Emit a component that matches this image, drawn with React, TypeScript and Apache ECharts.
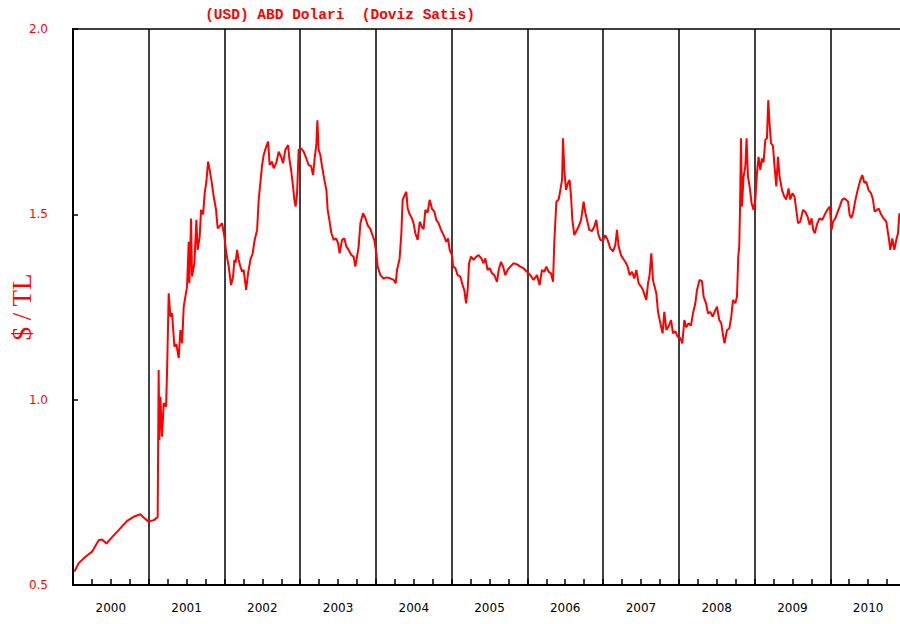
import React, { useEffect, useRef } from "react";
import * as echarts from "echarts";

// Decimal year of each reading
const years: number[] = [
  2000.018, 2000.075, 2000.164, 2000.252, 2000.339, 2000.384, 2000.441, 2000.516, 2000.603, 2000.714,
  2000.801, 2000.890, 2000.933, 2000.999, 2001.066, 2001.118, 2001.131, 2001.141, 2001.154, 2001.176,
  2001.198, 2001.229, 2001.242, 2001.264, 2001.286, 2001.308, 2001.339, 2001.365, 2001.396, 2001.418,
  2001.441, 2001.462, 2001.506, 2001.528, 2001.537, 2001.559, 2001.572, 2001.603, 2001.629, 2001.646,
  2001.673, 2001.691, 2001.718, 2001.739, 2001.761, 2001.784, 2001.805, 2001.827, 2001.858, 2001.889,
  2001.911, 2001.946, 2001.969, 2001.999, 2002.025, 2002.056, 2002.087, 2002.114, 2002.131, 2002.148,
  2002.167, 2002.188, 2002.210, 2002.233, 2002.254, 2002.286, 2002.312, 2002.342, 2002.373, 2002.399,
  2002.431, 2002.452, 2002.465, 2002.497, 2002.518, 2002.550, 2002.576, 2002.597, 2002.629, 2002.650,
  2002.686, 2002.716, 2002.748, 2002.774, 2002.804, 2002.840, 2002.857, 2002.880, 2002.906, 2002.923,
  2002.940, 2002.959, 2002.980, 2003.012, 2003.046, 2003.082, 2003.112, 2003.144, 2003.170, 2003.191,
  2003.214, 2003.227, 2003.244, 2003.266, 2003.289, 2003.319, 2003.346, 2003.363, 2003.385, 2003.412,
  2003.442, 2003.474, 2003.500, 2003.521, 2003.553, 2003.583, 2003.610, 2003.640, 2003.676, 2003.706,
  2003.728, 2003.751, 2003.772, 2003.795, 2003.830, 2003.861, 2003.891, 2003.927, 2003.962, 2003.979,
  2004.006, 2004.023, 2004.059, 2004.102, 2004.147, 2004.191, 2004.234, 2004.261, 2004.279, 2004.313,
  2004.336, 2004.353, 2004.379, 2004.402, 2004.419, 2004.446, 2004.477, 2004.498, 2004.521, 2004.551,
  2004.578, 2004.609, 2004.630, 2004.653, 2004.683, 2004.710, 2004.741, 2004.772, 2004.798, 2004.828,
  2004.860, 2004.894, 2004.930, 2004.953, 2004.974, 2005.005, 2005.019, 2005.049, 2005.079, 2005.115,
  2005.145, 2005.168, 2005.190, 2005.211, 2005.230, 2005.256, 2005.291, 2005.326, 2005.356, 2005.392,
  2005.422, 2005.445, 2005.475, 2005.502, 2005.533, 2005.564, 2005.599, 2005.621, 2005.652, 2005.679,
  2005.709, 2005.739, 2005.775, 2005.818, 2005.863, 2005.907, 2005.951, 2005.995, 2006.039, 2006.082,
  2006.127, 2006.162, 2006.193, 2006.224, 2006.250, 2006.281, 2006.312, 2006.339, 2006.356, 2006.383,
  2006.413, 2006.436, 2006.458, 2006.471, 2006.488, 2006.510, 2006.537, 2006.558, 2006.577, 2006.594,
  2006.620, 2006.647, 2006.677, 2006.709, 2006.743, 2006.765, 2006.787, 2006.818, 2006.854, 2006.884,
  2006.910, 2006.933, 2006.963, 2006.999, 2007.029, 2007.060, 2007.095, 2007.131, 2007.161, 2007.184,
  2007.205, 2007.236, 2007.263, 2007.293, 2007.324, 2007.350, 2007.382, 2007.412, 2007.439, 2007.469,
  2007.501, 2007.527, 2007.548, 2007.571, 2007.593, 2007.614, 2007.637, 2007.659, 2007.680, 2007.703,
  2007.725, 2007.756, 2007.786, 2007.808, 2007.835, 2007.865, 2007.897, 2007.923, 2007.953, 2007.984,
  2008.020, 2008.046, 2008.073, 2008.099, 2008.129, 2008.161, 2008.187, 2008.218, 2008.240, 2008.274,
  2008.306, 2008.327, 2008.359, 2008.385, 2008.416, 2008.446, 2008.472, 2008.504, 2008.534, 2008.561,
  2008.583, 2008.604, 2008.636, 2008.667, 2008.693, 2008.715, 2008.746, 2008.768, 2008.785, 2008.798,
  2008.808, 2008.821, 2008.834, 2008.855, 2008.878, 2008.895, 2008.913, 2008.935, 2008.961, 2008.987,
  2009.010, 2009.032, 2009.053, 2009.076, 2009.098, 2009.119, 2009.142, 2009.164, 2009.181, 2009.198,
  2009.217, 2009.243, 2009.264, 2009.287, 2009.309, 2009.330, 2009.362, 2009.392, 2009.419, 2009.449,
  2009.471, 2009.502, 2009.528, 2009.551, 2009.574, 2009.604, 2009.639, 2009.670, 2009.700, 2009.727,
  2009.753, 2009.775, 2009.796, 2009.828, 2009.858, 2009.894, 2009.924, 2009.960, 2009.994, 2010.017,
  2010.036, 2010.068, 2010.098, 2010.124, 2010.155, 2010.186, 2010.212, 2010.235, 2010.256, 2010.278,
  2010.300, 2010.332, 2010.362, 2010.398, 2010.423, 2010.449, 2010.475, 2010.506, 2010.538, 2010.564,
  2010.585, 2010.617, 2010.638, 2010.670, 2010.704, 2010.740, 2010.770, 2010.793, 2010.819, 2010.846,
  2010.872, 2010.894, 2010.913,
];

// USD selling rate ($ / TL)
const rates: number[] = [
  0.536, 0.559, 0.576, 0.590, 0.621, 0.623, 0.612, 0.629, 0.648, 0.673,
  0.684, 0.691, 0.682, 0.671, 0.675, 0.683, 1.080, 0.891, 1.008, 0.900,
  0.991, 0.981, 1.075, 1.287, 1.224, 1.233, 1.143, 1.150, 1.112, 1.188,
  1.152, 1.251, 1.305, 1.426, 1.314, 1.489, 1.332, 1.368, 1.485, 1.404,
  1.440, 1.512, 1.500, 1.557, 1.588, 1.642, 1.620, 1.593, 1.548, 1.512,
  1.462, 1.470, 1.476, 1.440, 1.395, 1.359, 1.309, 1.332, 1.377, 1.370,
  1.404, 1.377, 1.359, 1.345, 1.350, 1.296, 1.341, 1.377, 1.395, 1.431,
  1.458, 1.539, 1.566, 1.633, 1.660, 1.682, 1.696, 1.633, 1.642, 1.624,
  1.640, 1.669, 1.655, 1.638, 1.674, 1.687, 1.650, 1.620, 1.575, 1.539,
  1.521, 1.557, 1.674, 1.678, 1.669, 1.650, 1.633, 1.630, 1.606, 1.651,
  1.690, 1.754, 1.674, 1.660, 1.629, 1.593, 1.566, 1.512, 1.485, 1.449,
  1.431, 1.435, 1.422, 1.395, 1.431, 1.435, 1.413, 1.404, 1.390, 1.386,
  1.359, 1.386, 1.413, 1.476, 1.503, 1.490, 1.471, 1.460, 1.440, 1.431,
  1.395, 1.359, 1.336, 1.327, 1.330, 1.327, 1.323, 1.314, 1.350, 1.381,
  1.449, 1.539, 1.552, 1.561, 1.516, 1.500, 1.489, 1.475, 1.449, 1.431,
  1.480, 1.465, 1.460, 1.512, 1.505, 1.539, 1.515, 1.507, 1.485, 1.476,
  1.458, 1.444, 1.426, 1.435, 1.404, 1.390, 1.359, 1.355, 1.336, 1.332,
  1.309, 1.295, 1.260, 1.295, 1.368, 1.386, 1.377, 1.386, 1.390, 1.381,
  1.368, 1.381, 1.350, 1.355, 1.341, 1.336, 1.318, 1.350, 1.372, 1.359,
  1.336, 1.350, 1.359, 1.368, 1.365, 1.359, 1.354, 1.345, 1.336, 1.323,
  1.336, 1.309, 1.350, 1.345, 1.359, 1.345, 1.341, 1.318, 1.426, 1.534,
  1.540, 1.566, 1.593, 1.705, 1.620, 1.566, 1.585, 1.593, 1.548, 1.485,
  1.444, 1.455, 1.467, 1.485, 1.534, 1.505, 1.485, 1.458, 1.455, 1.467,
  1.485, 1.449, 1.431, 1.430, 1.444, 1.431, 1.408, 1.400, 1.417, 1.458,
  1.413, 1.390, 1.381, 1.372, 1.359, 1.336, 1.345, 1.327, 1.350, 1.314,
  1.305, 1.296, 1.282, 1.269, 1.314, 1.336, 1.395, 1.323, 1.305, 1.287,
  1.237, 1.206, 1.179, 1.237, 1.188, 1.197, 1.215, 1.179, 1.185, 1.170,
  1.166, 1.152, 1.215, 1.195, 1.206, 1.200, 1.233, 1.260, 1.296, 1.323,
  1.320, 1.278, 1.260, 1.233, 1.237, 1.224, 1.237, 1.251, 1.215, 1.206,
  1.175, 1.152, 1.188, 1.192, 1.224, 1.269, 1.260, 1.278, 1.386, 1.413,
  1.512, 1.705, 1.521, 1.602, 1.629, 1.705, 1.602, 1.575, 1.530, 1.512,
  1.539, 1.611, 1.655, 1.620, 1.651, 1.640, 1.701, 1.705, 1.808, 1.746,
  1.692, 1.685, 1.629, 1.575, 1.655, 1.602, 1.566, 1.548, 1.540, 1.570,
  1.540, 1.557, 1.548, 1.512, 1.476, 1.480, 1.512, 1.507, 1.494, 1.472,
  1.489, 1.458, 1.449, 1.475, 1.489, 1.485, 1.498, 1.512, 1.521, 1.458,
  1.480, 1.490, 1.507, 1.520, 1.539, 1.543, 1.539, 1.534, 1.498, 1.490,
  1.503, 1.539, 1.566, 1.593, 1.606, 1.585, 1.588, 1.565, 1.557, 1.540,
  1.507, 1.512, 1.516, 1.500, 1.489, 1.480, 1.440, 1.404, 1.435, 1.404,
  1.431, 1.449, 1.503,
];

const yearLabels: string[] = [
  "2000", "2001", "2002", "2003", "2004", "2005", "2006", "2007", "2008", "2009", "2010",
];

const yTicks = { min: 0.5, max: 2.0, step: 0.5 };
const titleText = "(USD) ABD Dolari  (Doviz Satis)";
const yName = "$ / TL";

export default function App() {
  const ref = useRef<HTMLDivElement>(null);

  useEffect(() => {
    if (!ref.current) return;
    const chart = echarts.init(ref.current, null, { renderer: "svg" });
    const red = "#ff0000";
    chart.setOption({
      animation: false,
      backgroundColor: "#ffffff",
      grid: {
        left: 73,
        top: 29,
        right: 0,
        bottom: 39,
        show: true,
        borderColor: "#000",
        borderWidth: 1.5,
        containLabel: false,
        outerBoundsMode: "none",
      },
      graphic: [
        {
          type: "text",
          x: 340,
          y: 15,
          style: {
            text: titleText,
            fill: red,
            font: "bold 14.5px 'Liberation Mono', monospace",
            textAlign: "center",
            textVerticalAlign: "middle",
          },
        },
      ],
      xAxis: [
        {
          type: "value",
          position: "bottom",
          min: 2000,
          max: 2011,
          interval: 0.25,
          z: 10,
          axisLine: { show: true, onZero: false, lineStyle: { color: "#000", width: 2 } },
          axisTick: {
            show: true,
            inside: true,
            interval: 0,
            length: 6,
            lineStyle: { color: "#000", width: 1.5, opacity: 1 },
          },
          axisLabel: { show: false },
          splitLine: { show: false },
        },
        {
          type: "category",
          data: yearLabels,
          boundaryGap: true,
          position: "bottom",
          axisLine: { show: false, onZero: false },
          axisTick: { show: false },
          axisLabel: {
            show: true,
            interval: 0,
            margin: 17,
            color: "#000",
            fontFamily: "'DejaVu Sans', sans-serif",
            fontSize: 12,
          },
          splitLine: { show: true, interval: 0, lineStyle: { color: "#000", width: 1.5 } },
        },
      ],
      yAxis: {
        type: "value",
        min: yTicks.min,
        max: yTicks.max,
        interval: yTicks.step,
        name: yName,
        nameLocation: "middle",
        nameGap: 38,
        nameMoveOverlap: false,
        nameTextStyle: {
          color: red,
          fontFamily: "'Liberation Serif', serif",
          fontSize: 27,
        },
        z: 10,
        axisLine: { show: true, lineStyle: { color: "#000", width: 2 } },
        axisTick: { show: true, inside: true, interval: 0, length: 5, lineStyle: { color: "#000", width: 1.5, opacity: 1 } },
        axisLabel: {
          color: red,
          margin: 25,
          fontFamily: "'DejaVu Sans', sans-serif",
          fontSize: 12,
          formatter: (v: number) => v.toFixed(1),
        },
        splitLine: { show: false },
      },
      series: [
        {
          type: "line",
          xAxisIndex: 0,
          data: years.map((t, i) => [t, rates[i]]),
          showSymbol: false,
          lineStyle: { color: red, width: 2 },
          itemStyle: { color: red },
        },
      ],
    });
    return () => chart.dispose();
  }, []);

  return (
    <div
      style={{
        position: "fixed",
        left: 0,
        top: 0,
        width: 900,
        height: 624,
        overflow: "hidden",
        background: "#fff",
      }}
    >
      <div ref={ref} style={{ width: 906, height: 624 }} />
    </div>
  );
}
